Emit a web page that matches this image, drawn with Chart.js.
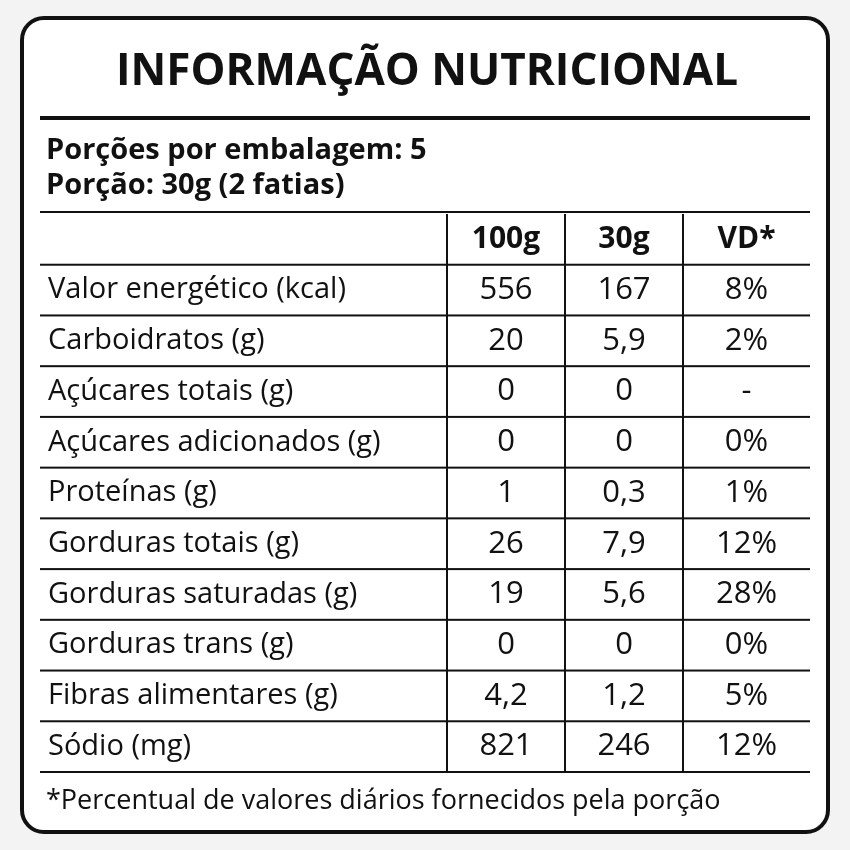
<!DOCTYPE html>
<html><head><meta charset="utf-8">
<script src="https://cdn.jsdelivr.net/npm/chart.js@4"></script>
<style>html,body{margin:0;padding:0;background:#f3f3f3}#wrap{width:850px;height:850px}</style>
</head><body><div id="wrap"><canvas id="c" width="850" height="850"></canvas></div>
<script>
const title = "INFORMAÇÃO NUTRICIONAL";
const servingLines = ["Porções por embalagem: 5", "Porção: 30g (2 fatias)"];
const columns = ["100g", "30g", "VD*"];
const nutrients = ["Valor energético (kcal)","Carboidratos (g)","Açúcares totais (g)","Açúcares adicionados (g)","Proteínas (g)","Gorduras totais (g)","Gorduras saturadas (g)","Gorduras trans (g)","Fibras alimentares (g)","Sódio (mg)"];
const per100g = ["556","20","0","0","1","26","19","0","4,2","821"];
const per30g = ["167","5,9","0","0","0,3","7,9","5,6","0","1,2","246"];
const vd = ["8%","2%","-","0%","1%","12%","28%","0%","5%","12%"];
const footnote = "*Percentual de valores diários fornecidos pela porção";

const rowLabels = ["header"].concat(nutrients);
const F = "'Open Sans', Lato, sans-serif";
const colX = [40, 447, 565, 683, 810];

const tablePlugin = {
  id: 'table',
  beforeDraw(chart) {
    const ctx = chart.ctx;
    ctx.save();
    ctx.fillStyle = '#f3f3f3'; ctx.fillRect(0,0,850,850);
    ctx.beginPath(); ctx.roundRect(22,18,806,814,22);
    ctx.fillStyle='#fff'; ctx.fill();
    ctx.lineWidth=4; ctx.strokeStyle='#111'; ctx.stroke();
    ctx.restore();
  },
  afterDraw(chart) {
    const ctx = chart.ctx, y = chart.scales.y;
    const half = (y.getPixelForValue(1) - y.getPixelForValue(0)) / 2;
    ctx.save();
    ctx.fillStyle = '#111'; ctx.strokeStyle = '#111';
    ctx.textBaseline = 'middle';
    ctx.textAlign = 'center';
    ctx.font = `bold 44px ${F}`;
    ctx.fillText(title, 427, 72);
    ctx.fillRect(40, 116, 770, 4);
    ctx.textAlign = 'left';
    ctx.font = `bold 29px ${F}`;
    ctx.fillText(servingLines[0], 46, 151);
    ctx.fillText(servingLines[1], 46, 186);
    ctx.fillRect(40, 211, 770, 2);
    const top = y.getPixelForValue(0) - half, bot = y.getPixelForValue(rowLabels.length-1) + half;
    for (let i = 0; i < rowLabels.length; i++) {
      const cy = y.getPixelForValue(i);
      ctx.fillRect(40, cy + half - 1, 770, 2);
      if (i === 0) {
        ctx.font = `bold 30px ${F}`; ctx.textAlign='center';
        columns.forEach((c,j)=>ctx.fillText(c,(colX[j+1]+colX[j+2])/2, cy));
      } else {
        ctx.font = `29px ${F}`; ctx.textAlign='left';
        ctx.fillText(nutrients[i-1], 48, cy);
        ctx.font = `31px ${F}`; ctx.textAlign='center';
        [per100g, per30g, vd].forEach((arr,j)=>ctx.fillText(arr[i-1],(colX[j+1]+colX[j+2])/2, cy));
      }
    }
    for (let j = 1; j <= 3; j++) ctx.fillRect(colX[j]-1, top, 2, bot - top);
    ctx.font = `27px ${F}`; ctx.textAlign='left';
    ctx.fillText(footnote, 46, 801);
    ctx.restore();
  }
};

new Chart(document.getElementById('c'), {
  type: 'bar',
  data: { labels: rowLabels, datasets: [{ data: rowLabels.map(()=>null) }] },
  options: {
    responsive: false, animation: false, indexAxis: 'y',
    layout: { padding: { top: 214, bottom: 78, left: 40, right: 40 } },
    plugins: { legend: { display: false }, tooltip: { enabled: false } },
    scales: { y: { type: 'category', display: false }, x: { display: false, min: 0, max: 1 } }
  },
  plugins: [tablePlugin]
});
</script></body></html>
